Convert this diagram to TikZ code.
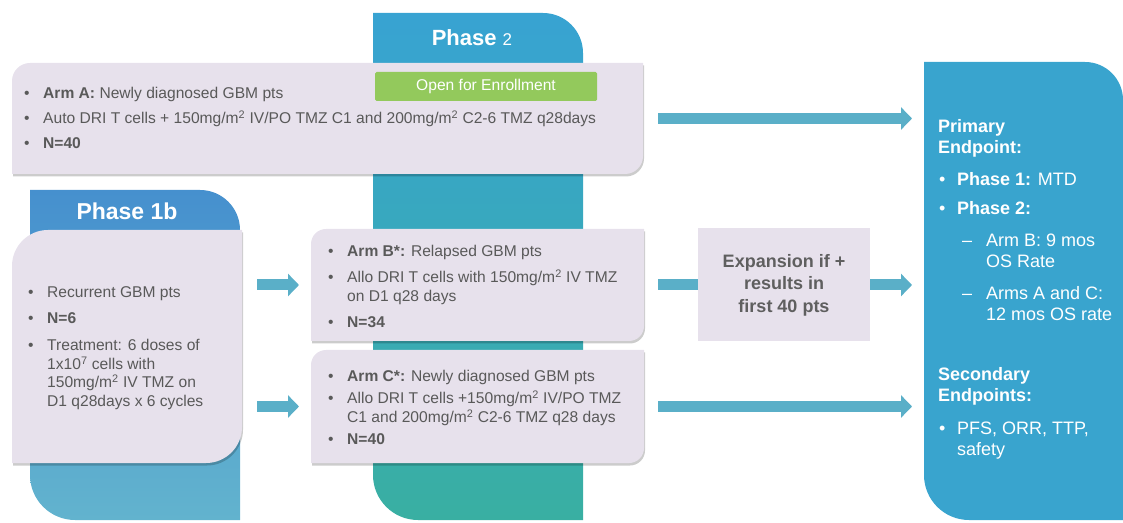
\documentclass[tikz,border=0pt]{standalone}
\usepackage{fontspec}
\setmainfont{Liberation Sans}
\usetikzlibrary{positioning, arrows.meta}

\definecolor{lav}{HTML}{E7E1EC}
\definecolor{txtgray}{HTML}{595959}
\definecolor{expgray}{HTML}{5F5F5F}
\definecolor{enrollgreen}{HTML}{93C95C}
\definecolor{arrowblue}{HTML}{5AAFC8}
\definecolor{ptwotop}{HTML}{38A3D2}
\definecolor{ptwobot}{HTML}{39AFA2}
\definecolor{ponetop}{HTML}{4690CE}
\definecolor{ponebot}{HTML}{62B3CE}
\definecolor{endblue}{HTML}{39A4CE}

\newcommand{\bul}{\makebox[19pt][l]{\textbullet}}
\newcommand{\nobul}{\makebox[19pt]{}}
\newcommand{\epbul}{\makebox[19pt][l]{\hspace{1pt}\textbullet}}
\newcommand{\epdash}{\hspace{24pt}\makebox[24pt][l]{--}}
\newcommand{\sqm}{mg/m\textsuperscript{2}}

\tikzset{
  slab/.style={inner sep=0pt, outer sep=0pt},
  bodytxt/.style={inner sep=0pt, anchor=base west, text=txtgray, font=\fontsize{15.6}{18.7}\selectfont},
  eptxt/.style={inner sep=0pt, anchor=base west, text=white, font=\fontsize{18}{21}\selectfont},
  phasetitle/.style={inner sep=0pt, text=white},
  flow/.style={->, line width=11pt, arrowblue},
  shadowed/.style={preaction={fill=black, opacity=0.2, transform canvas={xshift=1pt, yshift=-2.5pt}}}
}

\begin{document}
\begin{tikzpicture}[x=1pt, y=1pt, >={Triangle[width=22pt,length=11pt]}, node distance=9pt]

  \useasboundingbox (0,0) rectangle (1123,522);

  % frames for the columns and boxes
  \node (ptwo) [slab, minimum width=210pt, minimum height=507pt] at (478,255.5) {};
  \node (pone) [slab, minimum width=210pt, minimum height=330pt] at (135,167) {};
  \node (endcol) [slab, minimum width=199pt, minimum height=458pt] at (1023.5,231) {};
  \node (armA) [slab, minimum width=631pt, minimum height=111pt] at (327.5,403.5) {};
  \node (ponebox) [slab, minimum width=230pt, minimum height=233pt] at (127,175.5) {};
  \node (armB) [slab, minimum width=333pt, minimum height=112pt] at (477.5,237) {};
  \node (armC) [slab, minimum width=333pt, minimum height=113pt, below=of armB] {};

  % phase columns
  \shade[top color=ptwotop, bottom color=ptwobot]
    (ptwo.north west) -- ([xshift=-40pt]ptwo.north east) arc[start angle=90, end angle=0, radius=40pt]
    -- (ptwo.south east) -- ([xshift=45pt]ptwo.south west) arc[start angle=270, end angle=180, radius=45pt] -- cycle;
  \shade[top color=ponetop, bottom color=ponebot]
    (pone.north west) -- ([xshift=-40pt]pone.north east) arc[start angle=90, end angle=0, radius=40pt]
    -- (pone.south east) -- ([xshift=45pt]pone.south west) arc[start angle=270, end angle=180, radius=45pt] -- cycle;
  \fill[endblue]
    (endcol.north west) -- ([xshift=-38pt]endcol.north east) arc[start angle=90, end angle=0, radius=38pt]
    -- (endcol.south east) -- ([xshift=45pt]endcol.south west) arc[start angle=270, end angle=180, radius=45pt] -- cycle;

  % arm boxes
  \fill[lav, shadowed]
    ([yshift=-18pt]armA.north west) arc[start angle=180, end angle=90, radius=18pt] -- (armA.north east)
    -- ([yshift=18pt]armA.south east) arc[start angle=0, end angle=-90, radius=18pt] -- (armA.south west) -- cycle;
  \fill[lav, shadowed]
    ([yshift=-36pt]ponebox.north west) arc[start angle=180, end angle=90, radius=36pt] -- (ponebox.north east)
    -- ([yshift=36pt]ponebox.south east) arc[start angle=0, end angle=-90, radius=36pt] -- (ponebox.south west) -- cycle;
  \fill[lav, shadowed]
    ([yshift=-15pt]armB.north west) arc[start angle=180, end angle=90, radius=15pt] -- (armB.north east)
    -- ([yshift=15pt]armB.south east) arc[start angle=0, end angle=-90, radius=15pt] -- (armB.south west) -- cycle;
  \fill[lav, shadowed]
    ([yshift=-15pt]armC.north west) arc[start angle=180, end angle=90, radius=15pt] -- (armC.north east)
    -- ([yshift=15pt]armC.south east) arc[start angle=0, end angle=-90, radius=15pt] -- (armC.south west) -- cycle;

  \node (expand) [slab, fill=lav, minimum width=172pt, minimum height=113pt, right=54pt of armB,
    align=center, text=expgray, font=\fontsize{18}{22.5}\selectfont\bfseries] {Expansion if +\\results in\\first 40 pts};
  \node (enroll) [slab, fill=enrollgreen, rounded corners=1.5pt, minimum width=222pt, minimum height=29pt,
    text=white, font=\fontsize{15.6}{18}\selectfont] at (486,435.5) {Open for Enrollment};

  % titles
  \node (ptwotitle) [phasetitle] at (472,484) {\fontsize{22}{26}\selectfont\bfseries Phase \fontsize{17}{20}\selectfont\mdseries 2};
  \node (ponetitle) [phasetitle, above=9.6pt of ponebox, font=\fontsize{23}{27}\selectfont\bfseries] {Phase 1b};

  % texts
  \node (armAtxt) [bodytxt] at ([shift={(12pt,-35.6pt)}]armA.north west) {\begin{tabular}[t]{@{}l@{}}
    \bul\textbf{Arm A:} Newly diagnosed GBM pts\\[6.3pt]
    \bul Auto DRI T cells + 150\sqm{} IV/PO TMZ C1 and 200\sqm{} C2-6 TMZ q28days\\[6.3pt]
    \bul\textbf{N=40}
  \end{tabular}};
  \node (ponetxt) [bodytxt] at ([shift={(16pt,-67.6pt)}]ponebox.north west) {\begin{tabular}[t]{@{}l@{}}
    \bul Recurrent GBM pts\\[7.3pt]
    \bul\textbf{N=6}\\[8.3pt]
    \bul Treatment: 6 doses of\\
    \nobul 1x10\textsuperscript{7} cells with\\
    \nobul 150\sqm{} IV TMZ on\\
    \nobul D1 q28days x 6 cycles
  \end{tabular}};
  \node (armBtxt) [bodytxt] at ([shift={(17pt,-27.6pt)}]armB.north west) {\begin{tabular}[t]{@{}l@{}}
    \bul\textbf{Arm B*:} Relapsed GBM pts\\[7.3pt]
    \bul Allo DRI T cells with 150\sqm{} IV TMZ\\
    \nobul on D1 q28 days\\[7.3pt]
    \bul\textbf{N=34}
  \end{tabular}};
  \node (armCtxt) [bodytxt] at ([shift={(17pt,-31.6pt)}]armC.north west) {\begin{tabular}[t]{@{}l@{}}
    \bul\textbf{Arm C*:} Newly diagnosed GBM pts\\[3.3pt]
    \bul Allo DRI T cells +150\sqm{} IV/PO TMZ\\
    \nobul C1 and 200\sqm{} C2-6 TMZ q28 days\\[3.3pt]
    \bul\textbf{N=40}
  \end{tabular}};
  \node (endtxt) [eptxt] at ([shift={(14pt,-70.4pt)}]endcol.north west) {\begin{tabular}[t]{@{}l@{}}
    \textbf{Primary}\\
    \textbf{Endpoint:}\\[11pt]
    \epbul\textbf{Phase 1:} MTD\\[8pt]
    \epbul\textbf{Phase 2:}\\[11pt]
    \epdash Arm B: 9 mos\\
    \hspace{48pt}OS Rate\\[11pt]
    \epdash Arms A and C:\\
    \hspace{48pt}12 mos OS rate\\[39pt]
    \textbf{Secondary}\\
    \textbf{Endpoints:}\\[12pt]
    \epbul PFS, ORR, TTP,\\
    \hspace{19pt}safety
  \end{tabular}};

  % arrows
  \draw[flow, shorten >=12pt] ([xshift=15pt]armA.east) -- (armA.east -| endcol.west);
  \draw[flow, shorten >=12pt] ([xshift=15pt]ponebox.east |- armB.west) -- (armB.west);
  \draw[flow, shorten >=12pt] ([xshift=15pt]ponebox.east |- armC.west) -- (armC.west);
  \draw[flow, -] ([xshift=14pt]armB.east) -- (expand.west);
  \draw[flow, shorten >=12pt] (expand.east) -- (expand.east -| endcol.west);
  \draw[flow, shorten >=12pt] ([xshift=14pt]armC.east) -- (armC.east -| endcol.west);

\end{tikzpicture}
\end{document}
